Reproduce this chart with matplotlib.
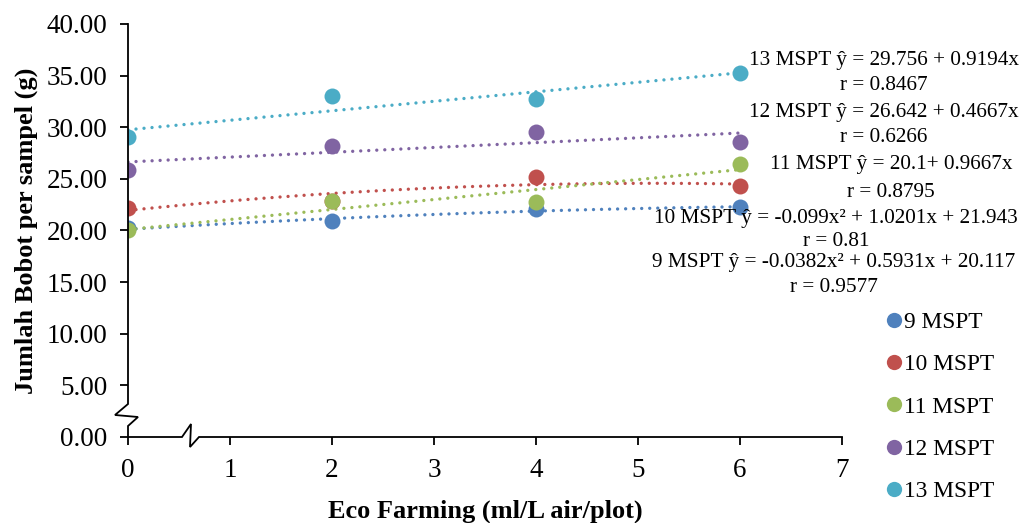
import numpy as np
import matplotlib
matplotlib.use('Agg')
import matplotlib.pyplot as plt
from matplotlib.lines import Line2D

plt.rcParams['font.family'] = ['Liberation Serif', 'DejaVu Serif']

# data
dosis = [0, 2, 4, 6]
labels = ['9 MSPT', '10 MSPT', '11 MSPT', '12 MSPT', '13 MSPT']
bobot_9 = [20.2, 20.9, 22.1, 22.3]
bobot_10 = [22.2, 22.9, 25.2, 24.3]
bobot_11 = [20.0, 22.9, 22.8, 26.4]
bobot_12 = [25.9, 28.2, 29.5, 28.6]
bobot_13 = [29.1, 33.0, 32.7, 35.3]
# koefisien garis tren (polyval, pangkat tertinggi dulu)
tren_9 = [-0.0382, 0.5931, 20.117]
tren_10 = [-0.099, 1.0201, 21.943]
tren_11 = [0.9667, 20.1]
tren_12 = [0.4667, 26.642]
tren_13 = [0.9194, 29.756]
persamaan = ['9 MSPT ŷ = -0.0382x² + 0.5931x + 20.117',
             '10 MSPT ŷ = -0.099x² + 1.0201x + 21.943',
             '11 MSPT ŷ = 20.1+ 0.9667x',
             '12 MSPT ŷ = 26.642 + 0.4667x',
             '13 MSPT ŷ = 29.756 + 0.9194x']
nilai_r = ['r = 0.9577', 'r = 0.81', 'r = 0.8795', 'r = 0.6266', 'r = 0.8467']

warna = ['#4F81BD', '#C0504D', '#9BBB59', '#8064A2', '#4BACC6']
semua = [bobot_9, bobot_10, bobot_11, bobot_12, bobot_13]
tren = [tren_9, tren_10, tren_11, tren_12, tren_13]

fig = plt.figure(figsize=(10.26, 5.23), dpi=100)
ax = fig.add_axes([128/1026, 1-437/523, (842-128)/1026, (437-24)/523])

xs = np.linspace(0, 6, 100)
for y, c, t in zip(semua, warna, tren):
    ax.plot(xs, np.polyval(t, xs), color=c, lw=2.4,
            linestyle=(0, (0.01, 2.4)), dash_capstyle='round', zorder=2)
for y, c in zip(semua, warna):
    ax.plot(dosis, y, 'o', color=c, markersize=11.5, markeredgewidth=0, zorder=3)

ax.set_xlim(0, 7)
ax.set_ylim(0, 40)
ax.set_xticks(range(8))
ax.set_yticks(np.arange(0, 41, 5))
ax.set_yticklabels(['%.2f' % v for v in np.arange(0, 41, 5)])
ax.tick_params(labelsize=19.5, length=6, width=1.3, pad=9, direction='out')
for s in ax.spines.values():
    s.set_visible(False)

# sumbu dengan tanda patah
def px(x, y):
    return (x - 128) / 102.0, (437 - y) / 10.325

def garis(pts):
    d = [px(a, b) for a, b in pts]
    ax.plot([p[0] for p in d], [p[1] for p in d], color='black', lw=1.3,
            clip_on=False, zorder=4, solid_joinstyle='miter')

garis([(128, 24), (128, 404), (115, 415), (138, 417), (128, 426), (128, 437)])
garis([(128, 437), (182, 437), (191, 424), (190, 447), (199, 437), (842, 437)])

ax.set_xlabel('Eco Farming (ml/L air/plot)', fontsize=19, fontweight='bold', labelpad=12)
ax.set_ylabel('Jumlah Bobot per sampel (g)', fontsize=19, fontweight='bold', labelpad=6)

# persamaan tren
pos_x = [834, 836, 891, 884, 884]
pos_y = [263, 218, 165, 112, 61]
pos_r = [287, 242, 192, 137, 85]
for i in range(5):
    fig.text(pos_x[i]/1026, 1-pos_y[i]/523, persamaan[i], fontsize=15.3,
             ha='center', va='center')
    fig.text(pos_x[i]/1026, 1-pos_r[i]/523, nilai_r[i], fontsize=15.3,
             ha='center', va='center')

handles = [Line2D([], [], marker='o', ls='', color=c, markersize=11, markeredgewidth=0)
           for c in warna]
fig.legend(handles, labels, loc='upper left', bbox_to_anchor=(875/1026, 1-300/523),
           frameon=False, fontsize=16.8, handlelength=0.6, handletextpad=0.15,
           labelspacing=0.9, borderpad=0)

fig.savefig('out.png', dpi=100)
